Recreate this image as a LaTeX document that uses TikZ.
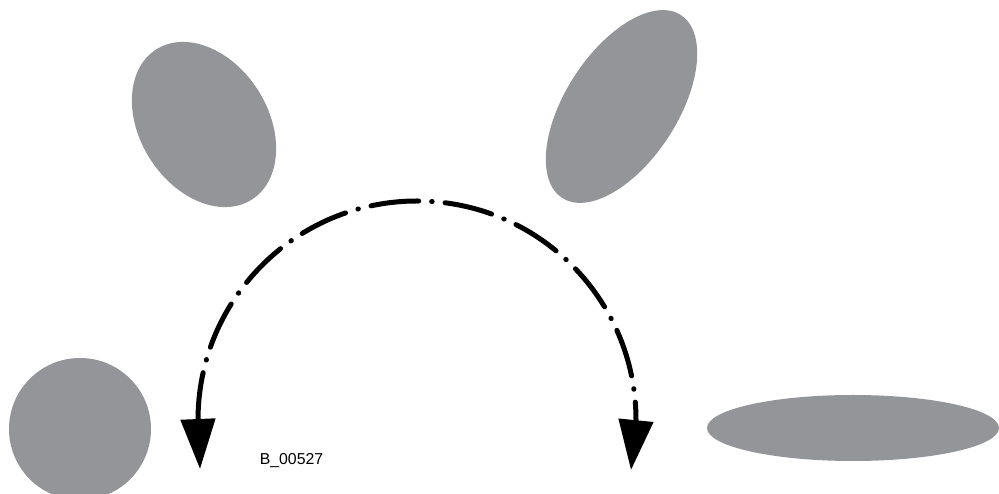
\documentclass[tikz,border=0pt]{standalone}
\usepackage{fontspec}
\newfontfamily\labelfont{Liberation Sans}
\usetikzlibrary{arrows.meta}
\definecolor{shapegray}{RGB}{147,149,153}

\begin{document}
\begin{tikzpicture}[
    blob/.style={fill=shapegray},
    swing/.style={line width=0.1cm, line cap=round,
        dash pattern=on 0.96cm off 0.26cm on 0.01cm off 0.26cm,
        {Triangle[length=1cm, width=0.68cm]}-{Triangle[length=1cm, width=0.68cm]}}
]
    \useasboundingbox (0,0) rectangle (19.98,9.88);

    % Shapes
    \fill[blob] (1.6,1.30) circle (1.42);
    \fill[blob, rotate around={-57.5:(4.08,7.39)}] (4.08,7.39) ellipse (1.78 and 1.28);
    \fill[blob, rotate around={57:(12.43,7.75)}] (12.43,7.75) ellipse (2.18 and 1.12);
    \fill[blob] (17.06,1.32) ellipse (2.92 and 0.66);

    % Ends of the swing
    \coordinate (tip_l) at (4.0,0.50);
    \coordinate (arc_l) at (3.96,1.48);
    \coordinate (arc_r) at (12.72,1.48);
    \coordinate (tip_r) at (12.62,0.48);

    % Swing: left -> top -> right
    \draw[swing] (tip_l) -- (arc_l) arc[start angle=180, end angle=0, radius=4.38] -- (tip_r);

    % Label
    \node (code) at (5.83,0.66) {\labelfont\fontsize{9}{10}\selectfont B\_00527};
\end{tikzpicture}
\end{document}
